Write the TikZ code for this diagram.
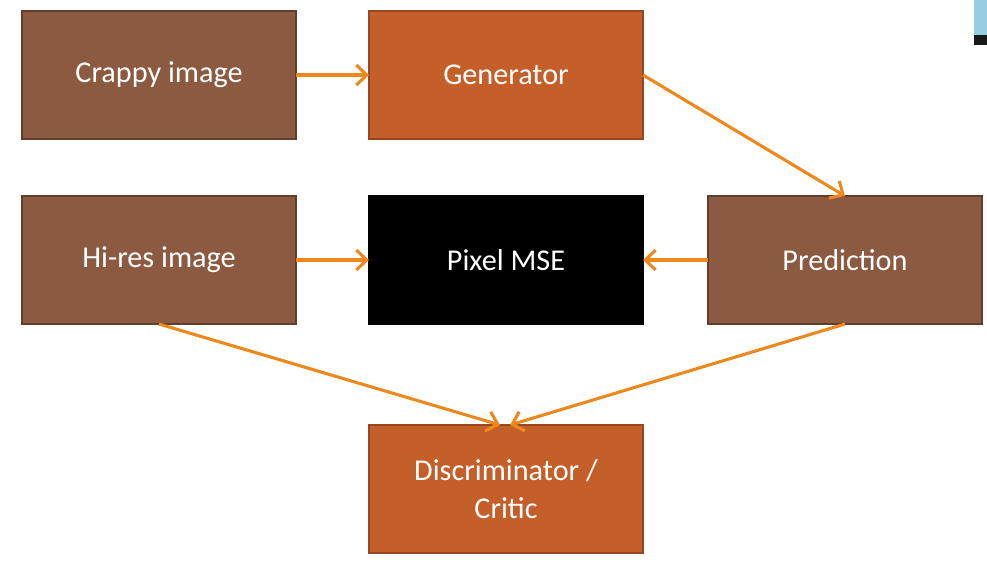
\documentclass[tikz,border=0pt]{standalone}
\usepackage{fontspec}
\setmainfont{Carlito}
\usetikzlibrary{arrows.meta,positioning}
\definecolor{boxbrown}{RGB}{139,90,65}
\definecolor{edgebrown}{RGB}{98,62,45}
\definecolor{boxorange}{RGB}{197,95,42}
\definecolor{edgeorange}{RGB}{152,72,32}
\definecolor{arroworange}{RGB}{237,137,28}
\definecolor{barblue}{RGB}{150,205,225}

\begin{document}
\begin{tikzpicture}[
  b/.style={draw,line width=1.6pt,minimum width=6.85cm,minimum height=3.2cm,
    inner sep=0pt,outer sep=0pt,align=center,text=white,
    font=\fontsize{21.5}{26.5}\selectfont},
  bb/.style={b,fill=boxbrown,draw=edgebrown},
  bo/.style={b,fill=boxorange,draw=edgeorange},
  ar/.style={-{Straight Barb[length=2.6mm,width=5mm]},line width=2.2pt,arroworange}]
\useasboundingbox (0,0) rectangle (24.675,-14.075);
\node[bb] (crappy) at (3.975,-1.875) {Crappy image};
\node[bo,right=1.825cm of crappy] (gen) {Generator};
\node[bb,below=1.425cm of crappy] (hires) {Hi-res image};
\node[b,fill=black,draw=black,below=1.425cm of gen] (mse) {Pixel MSE};
\node[bb,right=1.625cm of mse] (pred) {Prediction};
\node[bo,below=2.525cm of mse] (disc) {Discriminator /\\ Critic};
% screen edge
\fill[barblue] (24.35,0) rectangle (24.675,-0.875);
\fill[black!90] (24.35,-0.875) rectangle (24.675,-1.125);
\draw[ar] (crappy) -- (gen);
\draw[ar] (gen.east) -- (pred.north);
\draw[ar] (hires) -- (mse);
\draw[ar] (pred) -- (mse);
\draw[ar] (hires.south) -- ([xshift=-1.5mm]disc.north);
\draw[ar] (pred.south) -- ([xshift=1mm]disc.north);
\end{tikzpicture}
\end{document}
